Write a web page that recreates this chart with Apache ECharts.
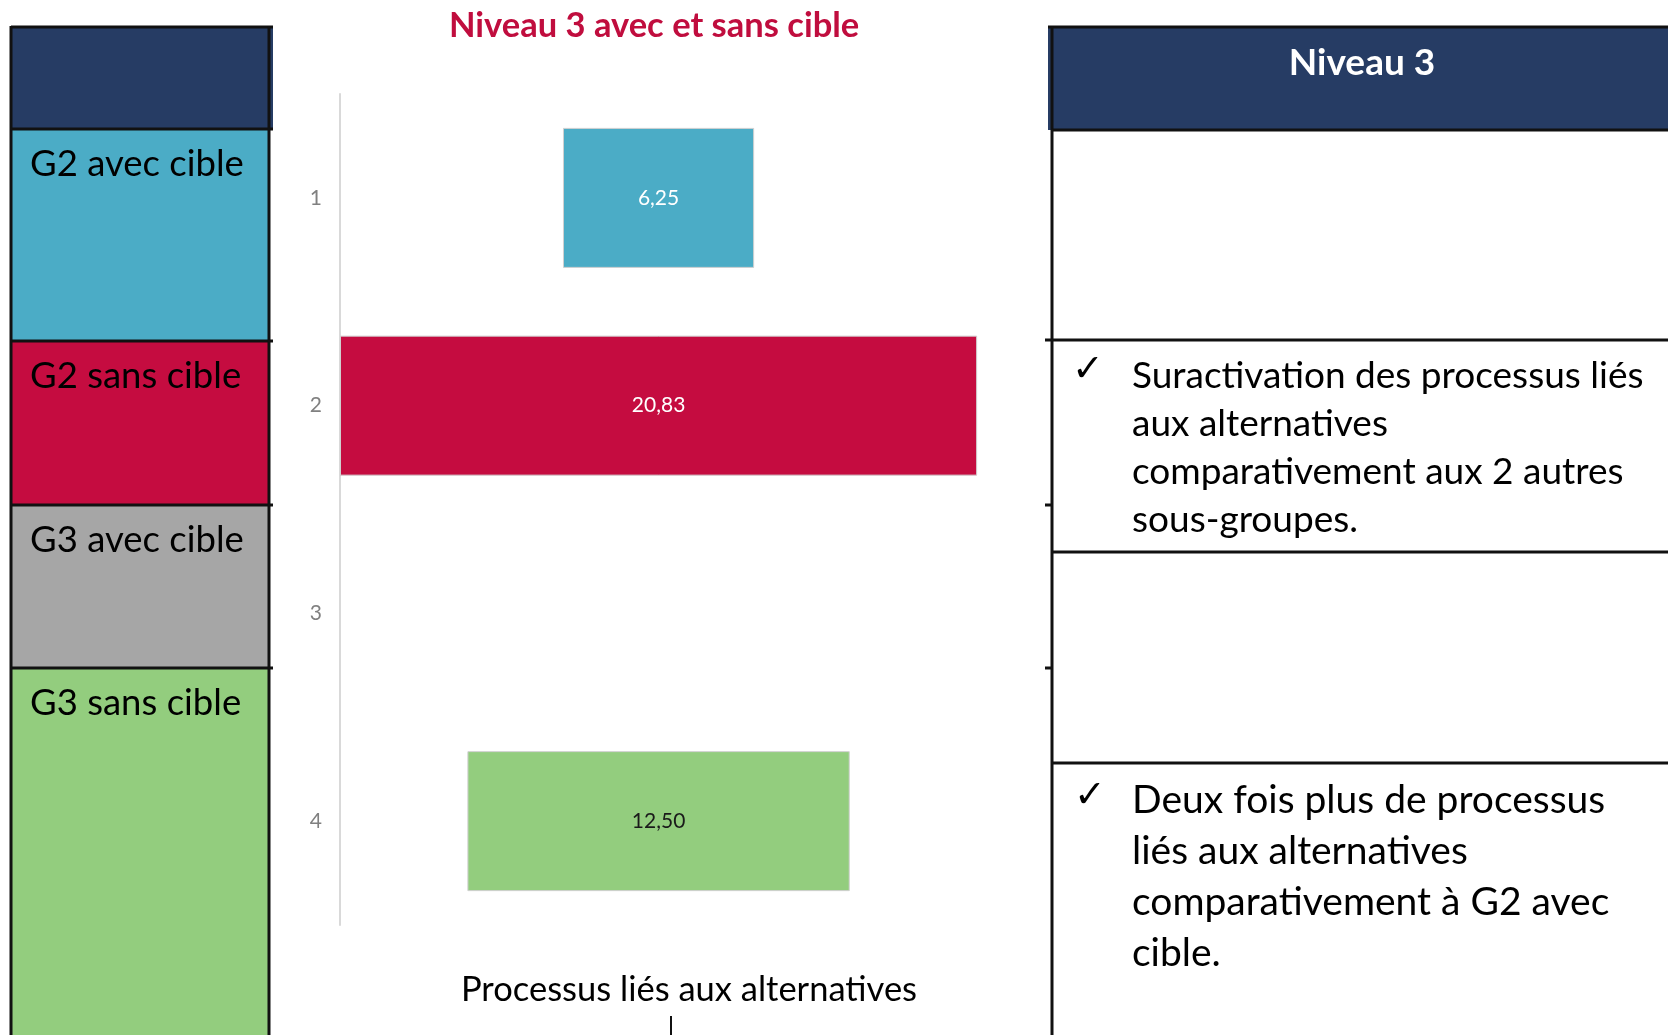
<!DOCTYPE html>
<html>
<head>
<meta charset="utf-8">
<script src="https://cdn.jsdelivr.net/npm/echarts@6/dist/echarts.min.js"></script>
<style>
html,body{margin:0;padding:0;background:#fff;}
#chart{width:1668px;height:1035px;}
</style>
</head>
<body>
<div id="chart"></div>
<script>
// ---- data ----
const categories = ['1', '2', '3', '4'];
const values = [6.25, 20.83, null, 12.50];
const barColors = ['#4BACC6', '#C50C40', '#A6A6A6', '#93CD7E'];
const labelColors = ['#ffffff', '#ffffff', '#000000', '#1a1a1a'];
const groupLabels = ['G2 avec cible', 'G2 sans cible', 'G3 avec cible', 'G3 sans cible'];
const chartTitle = 'Niveau 3 avec et sans cible';
const axisTitle = 'Processus liés aux alternatives';
const tableHeader = 'Niveau 3';
const note1 = ['Suractivation des processus liés', 'aux alternatives', 'comparativement aux 2 autres', 'sous-groupes.'];
const note2 = ['Deux fois plus de processus', 'liés aux alternatives', 'comparativement à G2 avec', 'cible.'];

// invisible offsets so that each bar is centred on the longest one (as in the original stacked chart)
const maxVal = Math.max(...values.filter(v => v != null));
const offsets = values.map(v => v == null ? null : (maxVal - v) / 2);

const FONT = 'Lato, "Open Sans", sans-serif';
const NAVY = '#263C64';
const BLK = '#111111';

// ---- decorative tables (graphic) ----
const g = [];
// left table
const lx0 = 11, lx1 = 269, lxs = 273;
const rowsY = [129, 341, 505, 668, 1040];
g.push({type: 'rect', shape: {x: lx0, y: 27, width: lxs - lx0, height: 102}, style: {fill: NAVY}});
for (let i = 0; i < 4; i++) {
  g.push({type: 'rect', shape: {x: lx0, y: rowsY[i], width: lx1 - lx0, height: rowsY[i + 1] - rowsY[i]}, style: {fill: barColors[i]}});
  g.push({type: 'text', x: 30, y: rowsY[i] + 35, style: {text: groupLabels[i], font: '36.5px ' + FONT, fill: '#000', align: 'left', verticalAlign: 'middle'}});
}
const lineStyle = {stroke: BLK, lineWidth: 3};
g.push({type: 'line', shape: {x1: lx0, y1: 27, x2: lxs, y2: 27}, style: lineStyle});
[129, 341, 505, 668].forEach(y => g.push({type: 'line', shape: {x1: lx0, y1: y, x2: lxs, y2: y}, style: lineStyle}));
g.push({type: 'line', shape: {x1: lx0, y1: 26, x2: lx0, y2: 1035}, style: lineStyle});
g.push({type: 'line', shape: {x1: lx1, y1: 26, x2: lx1, y2: 1035}, style: lineStyle});

// right table
const rx = 1052;
g.push({type: 'rect', shape: {x: 1048, y: 27, width: 620, height: 103}, style: {fill: NAVY}});
g.push({type: 'line', shape: {x1: 1048, y1: 27, x2: 1668, y2: 27}, style: lineStyle});
g.push({type: 'line', shape: {x1: rx, y1: 26, x2: rx, y2: 1035}, style: lineStyle});
[130, 552, 763].forEach(y => g.push({type: 'line', shape: {x1: rx, y1: y, x2: 1668, y2: y}, style: lineStyle}));
g.push({type: 'line', shape: {x1: 1045, y1: 340, x2: 1668, y2: 340}, style: lineStyle});
[505, 668].forEach(y => g.push({type: 'line', shape: {x1: 1045, y1: y, x2: rx, y2: y}, style: lineStyle}));
g.push({type: 'text', x: 1362, y: 63, style: {text: tableHeader, font: 'bold 37px ' + FONT, fill: '#ffffff', align: 'center', verticalAlign: 'middle'}});
g.push({type: 'text', x: 1088, y: 371, style: {text: '✓', font: 'bold 38px "DejaVu Sans"', fill: '#000', align: 'center', verticalAlign: 'middle'}});
g.push({type: 'text', x: 1132, y: 352, style: {text: note1.join('\n'), font: '37px ' + FONT, lineHeight: 48, fill: '#000', align: 'left', verticalAlign: 'top'}});
g.push({type: 'text', x: 1090, y: 797, style: {text: '✓', font: 'bold 38px "DejaVu Sans"', fill: '#000', align: 'center', verticalAlign: 'middle'}});
g.push({type: 'text', x: 1132, y: 775, style: {text: note2.join('\n'), font: '39px ' + FONT, lineHeight: 51, fill: '#000', align: 'left', verticalAlign: 'top'}});
// small tick under the axis title
g.push({type: 'line', shape: {x1: 671, y1: 1016, x2: 671, y2: 1035}, style: {stroke: BLK, lineWidth: 2}});

const chart = echarts.init(document.getElementById('chart'), null, {renderer: 'canvas'});
chart.setOption({
  backgroundColor: '#ffffff',
  animation: false,
  title: {
    text: chartTitle,
    left: 444, top: 3,
    textStyle: {color: '#C00D3E', fontFamily: FONT, fontWeight: 'bold', fontSize: 34.5}
  },
  grid: {left: 340, top: 94, width: 698, height: 831, containLabel: false},
  xAxis: {
    type: 'value', min: 0, max: 22.82,
    axisLine: {show: false}, axisTick: {show: false}, axisLabel: {show: false}, splitLine: {show: false},
    name: axisTitle, nameLocation: 'middle', nameGap: 47,
    nameTextStyle: {color: '#000', fontFamily: FONT, fontSize: 34.5}
  },
  yAxis: {
    type: 'category', data: categories, inverse: true,
    axisLine: {show: true, lineStyle: {color: '#D9D9D9', width: 2}},
    axisTick: {show: false},
    axisLabel: {color: '#808080', fontFamily: FONT, fontSize: 21, margin: 18}
  },
  series: [
    {
      name: 'offset', type: 'bar', stack: 'c', data: offsets, barWidth: 140,
      itemStyle: {color: 'rgba(0,0,0,0)'}, silent: true, label: {show: false}
    },
    {
      name: 'valeur', type: 'bar', stack: 'c', barWidth: 140,
      data: values.map((v, i) => ({
        value: v,
        itemStyle: {color: barColors[i], borderColor: '#D0D0D0', borderWidth: 1},
        label: {color: labelColors[i]}
      })),
      label: {
        show: true, position: 'inside', fontFamily: FONT, fontSize: 21,
        formatter: p => p.value == null ? '' : p.value.toFixed(2).replace('.', ',')
      }
    }
  ],
  graphic: g
});
</script>
</body>
</html>
